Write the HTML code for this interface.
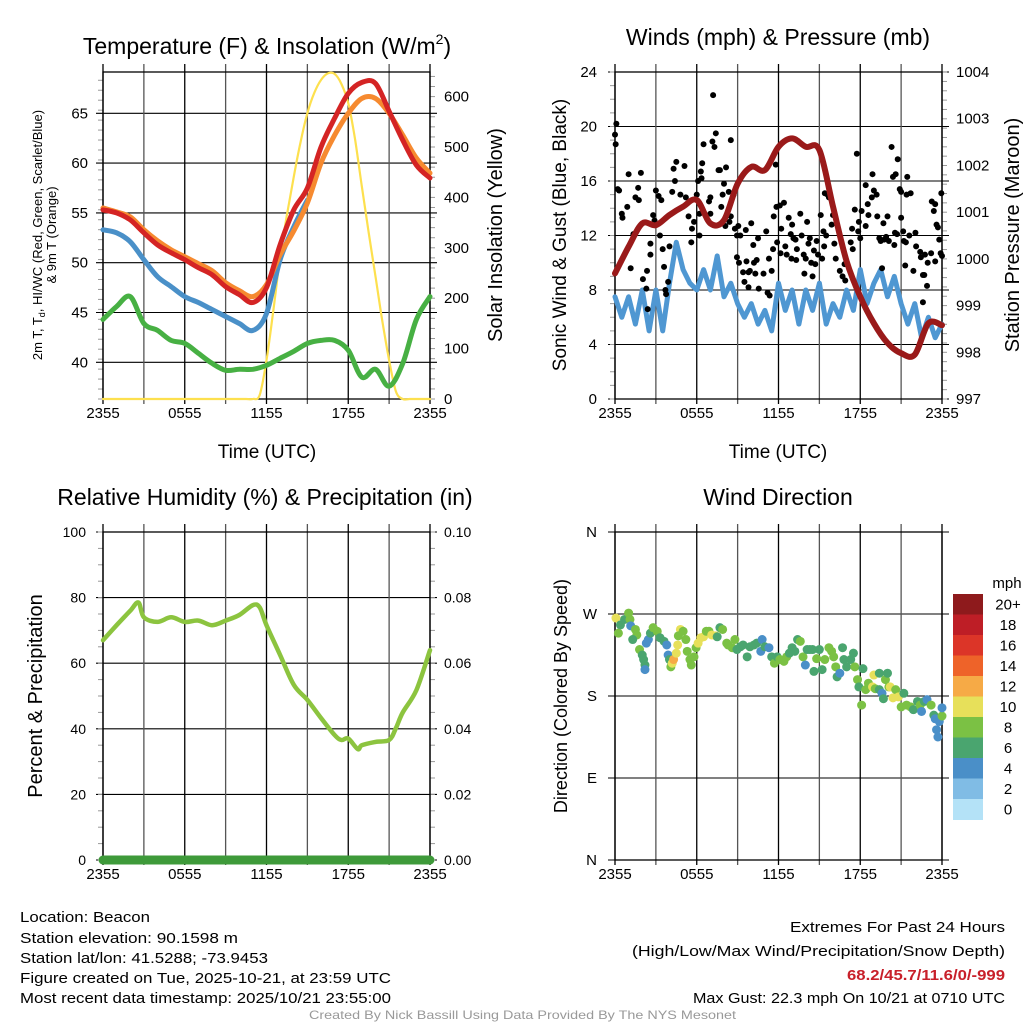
<!DOCTYPE html>
<html><head><meta charset="utf-8">
<style>
html,body{margin:0;padding:0;background:#fff;}
svg{display:block;font-family:"Liberation Sans",sans-serif;}
</style></head>
<body>
<svg id="chart" width="1024" height="1024" viewBox="0 0 1024 1024" xmlns="http://www.w3.org/2000/svg">
<rect width="1024" height="1024" fill="#fff"/>
<g id="g-temp"></g>
<g id="g-wind"></g>
<g id="g-rh"></g>
<g id="g-dir"></g>
<g font-size="23" text-anchor="middle" fill="#000">
<text x="267" y="54">Temperature (F) &amp; Insolation (W/m<tspan font-size="14" dy="-10">2</tspan><tspan dy="10">)</tspan></text>
<text x="778" y="45">Winds (mph) &amp; Pressure (mb)</text>
<text x="265" y="505">Relative Humidity (%) &amp; Precipitation (in)</text>
<text x="778" y="505">Wind Direction</text>
</g>
<g font-size="15" fill="#000">
<text x="20" y="922" textLength="130" lengthAdjust="spacingAndGlyphs">Location: Beacon</text>
<text x="20" y="943" textLength="218" lengthAdjust="spacingAndGlyphs">Station elevation: 90.1598 m</text>
<text x="20" y="963" textLength="248" lengthAdjust="spacingAndGlyphs">Station lat/lon: 41.5288; -73.9453</text>
<text x="20" y="983" textLength="371" lengthAdjust="spacingAndGlyphs">Figure created on Tue, 2025-10-21, at 23:59 UTC</text>
<text x="20" y="1003" textLength="371" lengthAdjust="spacingAndGlyphs">Most recent data timestamp: 2025/10/21 23:55:00</text>
<text x="790" y="932" textLength="215" lengthAdjust="spacingAndGlyphs">Extremes For Past 24 Hours</text>
<text x="632" y="956" textLength="373" lengthAdjust="spacingAndGlyphs">(High/Low/Max Wind/Precipitation/Snow Depth)</text>
<text x="847" y="980" fill="#c8202a" font-weight="bold" textLength="158" lengthAdjust="spacingAndGlyphs">68.2/45.7/11.6/0/-999</text>
<text x="693" y="1003" textLength="312" lengthAdjust="spacingAndGlyphs">Max Gust: 22.3 mph On 10/21 at 0710 UTC</text>
<text x="309" y="1019" font-size="12" fill="#999" textLength="427" lengthAdjust="spacingAndGlyphs">Created By Nick Bassill Using Data Provided By The NYS Mesonet</text>
</g>
</svg>
<script>
// ---------- data (hourly from 2355 UTC, h = 0..24) ----------
const xTickLabels = ["2355","0555","1155","1755","2355"];
const tempRed = [55.3,55.0,54.3,53.0,51.8,51.0,50.3,49.5,48.8,47.6,46.8,46.0,47.5,51.8,55.3,57.5,61.6,64.5,67.0,68.1,68.0,65.2,62.3,59.8,58.5];
const tempOrange = [55.5,55.1,54.6,53.3,52.2,51.3,50.6,49.9,49.2,48.0,47.2,46.6,47.8,50.8,53.2,56.0,60.0,62.8,65.0,66.5,66.5,65.0,62.8,60.5,59.0];
const tempBlue = [53.3,53.0,52.1,50.3,48.6,47.6,46.6,46.0,45.3,44.6,43.9,43.2,44.9,50.3,53.6,56.3];
const tempGreen = [44.3,45.6,46.6,43.9,43.2,42.2,41.9,40.9,39.9,39.2,39.3,39.3,39.7,40.4,41.1,41.9,42.2,42.2,41.2,38.5,39.3,37.6,39.9,44.3,46.6];
// solar (half-hourly)
const solar = [0,0,0,0,0,0,0,0,0,0,0,0,0,0,0,0,0,0,0,0,0,0,0,8,77,175,282,365,441,510,567,607,633,646,645,625,587,515,421,330,243,155,77,15,0,0,0,0,0];
const tempTicks = [40,45,50,55,60,65];
const solarTicks = [0,100,200,300,400,500,600];
// wind (half-hourly)
const windSpeed = [7.5,6,7.5,5.5,8,5,8,5,8.5,11.5,9.5,8.5,8,9.5,8,10.5,7.5,8.5,7,6,7,5.5,6.5,5,8.5,6.5,8,5.5,8,6.5,8.5,5.5,7,6,8,6.5,9.5,7,8.5,9.5,7.5,9,7,5.5,7,4.5,6,4.5,5.5];
const pressure = [999.69,1000.26,1000.76,1000.72,1000.94,1001.12,1001.26,1000.76,1000.83,1001.61,1001.97,1001.9,1002.4,1002.58,1002.4,1002.33,1001.12,999.95,999.19,998.62,998.2,997.98,997.95,998.62,998.58];
const gustHour = [0,0.05,0.1,0.2,0.3,0.5,0.55,0.9,1,1.15,1.35,1.5,1.7,1.75,1.9,2.05,2.3,2.35,2.4,2.6,2.6,2.8,2.9,3.0,3.2,3.3,3.4,3.5,3.6,3.7,3.75,3.9,4.0,4.2,4.3,4.5,4.4,4.8,5.1,5.2,5.4,5.6,5.65,5.8,6.0,6.1,6.2,6.2,6.3,6.4,6.35,6.5,6.9,7.0,7.0,7.2,7.15,7.3,7.4,7.6,7.7,7.8,7.9,8.0,8.1,8.15,8.4,8.5,8.35,8.5,8.7,8.8,8.95,8.95,9.05,9.1,9.2,9.4,9.5,9.6,9.65,9.8,9.8,9.9,10.0,10.2,10.15,10.3,10.4,10.5,10.55,10.9,11.2,11.35,11.5,11.3,11.1,11.6,11.65,11.8,11.85,11.9,12.1,12.4,12.2,12.15,12.5,12.6,12.75,12.9,12.95,13.0,13.1,13.3,13.35,13.25,13.6,13.7,13.85,14.0,14.2,13.9,14.1,14.3,14.4,14.5,14.6,14.7,14.8,14.9,15.2,15.3,15.1,15.35,15.4,15.6,15.7,15.5,15.9,16.0,16.1,16.2,16.5,16.7,16.9,16.85,17.3,17.45,17.4,17.6,17.75,17.85,17.9,18.0,18.4,18.1,18.4,18.55,18.6,18.9,18.85,19.0,19.2,19.25,19.4,19.5,19.6,19.75,19.7,20.0,19.9,20.1,20.3,20.4,20.6,20.5,20.55,20.7,21.2,20.75,20.9,21.0,21.0,21.15,21.3,21.35,21.4,21.7,21.45,21.6,21.9,22.05,22.1,22.4,22.45,22.6,22.6,22.7,22.9,22.75,22.95,23.2,23.5,23.25,23.5,23.4,23.6,23.7,23.8,23.9,24.0,23.95];
const gustVal = [19.4,18.7,20.2,15.4,15.3,13.6,13.3,14.1,16.5,9.6,12.1,14.8,15.5,14.6,16.6,8.8,8.1,9.4,6.6,11.4,10.6,13.5,13.1,15.3,14.9,12.0,14.6,11.0,9.7,8.0,7.7,8.6,11.2,15.2,16.9,17.4,16.0,15.0,17.1,14.8,13.4,11.5,12.5,13.0,15.0,16.0,12.0,13.6,16.7,17.3,16.2,18.7,14.5,14.8,13.6,22.3,18.9,18.5,19.5,16.8,16.8,14.1,15.0,15.8,12.7,17.0,13.0,13.4,15.2,19.0,15.0,12.5,12.0,10.4,12.7,10.0,12.0,9.3,8.6,12.4,10.1,9.3,8.2,9.4,12.9,10.0,11.3,9.2,10.2,11.8,8.1,9.2,7.8,7.6,9.4,10.3,12.3,11.0,13.4,17.2,14.1,11.5,14.2,14.4,12.5,10.7,11.2,10.6,13.3,12.1,10.3,12.8,11.8,10.2,11.0,11.7,13.6,12.0,10.6,10.3,11.4,9.2,13.0,11.8,10.0,9.0,10.9,9.9,11.6,10.6,10.3,12.3,13.5,11.2,15.1,15.0,14.8,12.0,12.8,13.5,11.4,10.3,9.4,9.0,8.7,9.9,11.5,11.0,12.5,13.9,18.0,12.3,13.0,11.8,12.7,13.8,15.7,14.3,13.5,16.5,14.8,15.3,15.0,13.4,11.8,11.6,9.6,11.7,12.9,13.4,11.9,11.6,18.5,16.3,16.5,11.3,12.2,12.1,11.6,17.6,15.4,15.2,13.3,12.3,9.8,11.5,15.0,15.1,16.3,12.0,9.4,12.2,11.2,10.8,10.4,9.1,7.1,9.1,8.3,10.6,10.0,10.7,10.1,14.5,14.3,13.8,12.8,12.6,11.7,10.7,10.5,15.1];
const windTicks = [0,4,8,12,16,20,24];
const pressTicks = [997,998,999,1000,1001,1002,1003,1004];
// humidity
const rhHour = [0,1,2,2.6,3,4,5,6,7,8,9,10,11,11.5,12,13,14,15,16,17,17.5,18,18.7,19,20,21,21.5,22,23,24];
const rhVal = [67,71.6,76,78.5,74,72.6,74,72.6,73,71.6,73,74.7,77.7,77,71.6,62.5,53.4,48.8,43.3,38.1,36.6,37,33.8,35,36,36.6,40.2,45,51.8,64];
const precipVal = [0,0];
const rhTicks = [0,20,40,60,80,100];
const precipTicks = ["0.00","0.02","0.04","0.06","0.08","0.10"];
// wind direction
const dirHour = [0.07,0.4,0.25,0.7,1.0,1.1,1.15,1.5,1.6,1.3,1.8,2.0,2.1,2.2,2.2,2.3,2.45,2.6,2.8,3.1,3.3,3.6,3.8,3.9,4.0,4.1,4.2,4.3,4.5,4.6,4.8,4.65,5.0,5.2,5.3,5.5,5.6,5.8,5.95,6.1,6.3,6.5,6.7,6.9,7.1,7.4,7.5,7.7,7.9,8.2,8.3,8.6,8.8,8.95,9.2,9.4,9.7,9.9,10.2,10.4,10.7,10.8,11.0,11.3,11.5,11.7,11.9,12.1,12.4,12.6,12.8,13.0,13.2,13.4,13.6,13.8,13.97,14.1,14.3,14.5,14.6,14.8,15.0,15.2,15.4,15.7,15.9,16.05,16.2,16.3,16.5,16.7,16.8,17.0,17.3,17.5,17.6,17.8,17.9,18.1,18.2,18.4,18.6,18.9,19.0,19.1,19.4,19.4,19.6,19.7,19.85,20.0,20.1,20.2,20.4,20.6,20.8,21.0,21.2,21.4,21.7,21.9,22.2,22.4,22.5,22.7,22.9,23.2,23.4,23.5,23.6,23.7,23.8,24.0,24.0];
const dirDeg = [265.6,258,249,264,271,264,257,253,247,242,231,225,220,214,209,238,242,249,255,251,244,240,236,225,220,212,216,220,227,236,253,246,251,242,229,220,214,223,233,238,244,245,251,251,247,246,245,255,253,238,236,233,242,231,234,236,223,234,236,238,229,242,234,233,223,216,223,220,218,223,227,233,229,242,240,223,214,231,231,231,207,221,231,209,220,233,229,223,212,201,205,233,220,212,220,227,212,198,190,170,210,187,194,190,203,188,205,187,183,177,198,205,190,190,178,187,179,168,183,170,168,165,174,170,163,174,176,170,159,155,143,135,152,158,167];
const dirSpd = [10,6,8,6,8,8,4,8,8,6,8,6,6,6,4,4,4,6,8,8,6,6,4,4,6,8,10,12,10,10,10,8,8,8,8,8,8,8,8,10,10,10,8,8,10,10,6,6,8,8,8,8,8,6,6,6,6,6,6,6,4,4,6,4,6,8,6,8,8,8,6,6,6,6,8,8,4,6,6,6,6,8,6,6,8,8,8,8,8,6,4,6,6,6,6,6,8,8,6,8,6,8,8,10,10,8,6,6,4,6,8,6,8,10,10,8,10,8,6,8,8,6,6,8,4,6,4,8,6,4,4,4,4,8,4];
const cbLabels = ["0","2","4","6","8","10","12","14","16","18","20+"];
const cbColors = ["#b4e2f7","#80bce5","#4a8fc8","#4aa56f","#7bc144","#e7e05a","#f6aa46","#ee6329","#dc3528","#be1e26","#8e1a1c"];
const dirLabels = ["N","E","S","W","N"];

// ---------- helpers ----------
const NS = "http://www.w3.org/2000/svg";
function mk(tag, attrs, parent){ const e=document.createElementNS(NS,tag); for(const k in attrs) e.setAttribute(k,attrs[k]); parent.appendChild(e); return e; }
function colorFor(s){ let i=Math.min(10,Math.max(0,Math.floor(s/2))); return cbColors[i]; }

function frame(g, x0, y0, x1, y1, name){
  for(let i=0;i<=8;i++){
    const x=x0+(x1-x0)*i/8;
    const l=mk('line',{x1:x,x2:x,y1:y0-8,y2:y1+5,stroke:(i%2==0?'#000':'#555'),'stroke-width':1.3},g);
    
    
  }
  for(let i=0;i<5;i++){
    const t=mk('text',{x:x0+(x1-x0)*i/4,y:y1+19,'font-size':15,'text-anchor':'middle'},g);
    t.textContent=xTickLabels[i];
    
    
  }
  const r=mk('rect',{x:x0,y:y0,width:x1-x0,height:y1-y0,fill:'none',stroke:'#000','stroke-width':1.3},g);
  
  
}
function hgrid(g,x0,x1,y,name){
  const l=mk('line',{x1:x0-7,x2:x1+7,y1:y,y2:y,stroke:'#000','stroke-width':1.1},g);
  
  
}
function minorTicks(g,x,y0,y1,step,dir,name){
  for(let y=y1;y>=y0-0.1;y-=step){
    const l=mk('line',{x1:x,x2:x+dir*5,y1:y,y2:y,stroke:'#999','stroke-width':1},g);
    
    
  }
}
function tickLabel(g,x,y,txt,anchor,name,size){
  const t=mk('text',{x:x,y:y+5,'font-size':size||15,'text-anchor':anchor},g);
  t.textContent=txt;
  
  
}
function rotLabel(g,x,y,txt,size,name){
  const t=mk('text',{x:x,y:y,'font-size':size,'text-anchor':'middle',transform:`rotate(-90 ${x} ${y})`},g);
  t.textContent=txt;
  
  
  return t;
}
// smooth (Catmull-Rom) or straight path
function polyline(g,hours,vals,sx,sy,color,w,name,smooth){
  const P=[];
  for(let i=0;i<vals.length;i++){ if(vals[i]==null) continue; P.push([sx(hours[i]),sy(vals[i])]); }
  let d='M'+P[0][0].toFixed(1)+','+P[0][1].toFixed(1);
  for(let i=0;i<P.length-1;i++){
    if(smooth){
      const p0=P[Math.max(0,i-1)],p1=P[i],p2=P[i+1],p3=P[Math.min(P.length-1,i+2)];
      const c1=[p1[0]+(p2[0]-p0[0])/6,p1[1]+(p2[1]-p0[1])/6];
      const c2=[p2[0]-(p3[0]-p1[0])/6,p2[1]-(p3[1]-p1[1])/6];
      d+=' C'+c1[0].toFixed(1)+','+c1[1].toFixed(1)+' '+c2[0].toFixed(1)+','+c2[1].toFixed(1)+' '+p2[0].toFixed(1)+','+p2[1].toFixed(1);
    } else d+=' L'+P[i+1][0].toFixed(1)+','+P[i+1][1].toFixed(1);
  }
  const p=mk('path',{d:d,fill:'none',stroke:color,'stroke-width':w,'stroke-linejoin':'round','stroke-linecap':'round'},g);
  
  
}
const hourly = n => Array.from({length:n},(_,i)=>i);
const halfHourly = n => Array.from({length:n},(_,i)=>i/2);

// ---------- panel 1: temperature ----------
(function(){
  const g=document.getElementById('g-temp');
  const x0=103,x1=430,y0=72,y1=399;
  const sx=h=>x0+(x1-x0)*h/24;
  const sy=v=>362.3-(v-40)*9.96;
  const sr=v=>Math.min(y1,y1-v*0.504);
  tempTicks.forEach(v=>{ hgrid(g,x0,x1,sy(v),'temp'); tickLabel(g,88,sy(v),String(v),'end','temp-y-tick-label'); });
  solarTicks.forEach(v=>{ tickLabel(g,444,sr(v),String(v),'start','solar-y-tick-label'); });
  minorTicks(g,x0,y0,y1,9.96,-1,'temp-left');
  minorTicks(g,x1,y0,y1,10.08,1,'temp-right');
  frame(g,x0,y0,x1,y1,'temp');
  polyline(g,halfHourly(49),solar,sx,sr,'#fde04e',2.2,'solar-insolation-line',true);
  polyline(g,hourly(25),tempGreen,sx,sy,'#47b043',5,'dewpoint-line',true);
  polyline(g,hourly(16),tempBlue,sx,sy,'#4a90c8',5,'heat-index-line',true);
  polyline(g,hourly(25),tempOrange,sx,sy,'#f68a30',5,'temp-9m-line',true);
  polyline(g,hourly(25),tempRed,sx,sy,'#d42424',5,'temp-2m-line',true);
  const t=rotLabel(g,42,235,'',13,'temp-y-axis-title');
  t.innerHTML='2m T, T<tspan font-size="9" dy="3">d</tspan><tspan dy="-3">, HI/WC (Red, Green, Scarlet/Blue)</tspan>';
  rotLabel(g,56,235,'& 9m T (Orange)',13,'temp-y-axis-title-2');
  rotLabel(g,502,235,'Solar Insolation (Yellow)',20,'solar-y-axis-title');
  const xt=mk('text',{x:267,y:458,'font-size':19,'text-anchor':'middle'},g); xt.textContent='Time (UTC)';
  
  
})();

// ---------- panel 2: wind ----------
(function(){
  const g=document.getElementById('g-wind');
  const x0=615,x1=942,y0=72,y1=399;
  const sx=h=>x0+(x1-x0)*h/24;
  const sy=v=>y1-v*13.625;
  const sp=v=>y1-(v-997)*46.71;
  windTicks.forEach(v=>{ hgrid(g,x0,x1,sy(v),'wind'); tickLabel(g,597,sy(v),String(v),'end','wind-y-tick-label'); });
  pressTicks.forEach(v=>{ tickLabel(g,956,sp(v),String(v),'start','pressure-y-tick-label'); });
  minorTicks(g,x0,y0,y1,13.625,-1,'wind-left');
  minorTicks(g,x1,y0,y1,9.34,1,'wind-right');
  frame(g,x0,y0,x1,y1,'wind');
  polyline(g,halfHourly(49),windSpeed,sx,sy,'#4f97d2',5,'sonic-wind-line',false);
  for(let i=0;i<gustVal.length;i++){
    const c=mk('circle',{cx:sx(gustHour[i]),cy:sy(gustVal[i]),r:3,fill:'#000'},g);
    
    
  }
  polyline(g,hourly(25),pressure,sx,sp,'#9a1a1a',6,'pressure-line',true);
  rotLabel(g,566,235,'Sonic Wind & Gust (Blue, Black)',19,'wind-y-axis-title');
  rotLabel(g,1019,235,'Station Pressure (Maroon)',20,'pressure-y-axis-title');
  const xt=mk('text',{x:778,y:458,'font-size':19,'text-anchor':'middle'},g); xt.textContent='Time (UTC)';
  
  
})();

// ---------- panel 3: humidity ----------
(function(){
  const g=document.getElementById('g-rh');
  const x0=103,x1=430,y0=532,y1=860;
  const sx=h=>x0+(x1-x0)*h/24;
  const sy=v=>y1-v*3.28;
  const sp=v=>y1-v*3280;
  rhTicks.forEach((v,i)=>{ hgrid(g,x0,x1,sy(v),'rh'); tickLabel(g,86,sy(v),String(v),'end','rh-y-tick-label',14); tickLabel(g,444,sy(v),precipTicks[i],'start','precip-y-tick-label',14); });
  minorTicks(g,x0,y0,y1,16.4,-1,'rh-left');
  minorTicks(g,x1,y0,y1,16.4,1,'rh-right');
  frame(g,x0,y0,x1,y1,'rh');
  polyline(g,rhHour,rhVal,sx,sy,'#8cc43f',4.5,'relative-humidity-line',true);
  polyline(g,[0,24],precipVal,sx,sp,'#3e9a3a',9,'precipitation-line',false);
  rotLabel(g,42,696,'Percent & Precipitation',20,'rh-y-axis-title');
})();

// ---------- panel 4: wind direction ----------
(function(){
  const g=document.getElementById('g-dir');
  const x0=615,x1=942,y0=532,y1=860;
  const sx=h=>x0+(x1-x0)*h/24;
  const sy=d=>y1-d*(y1-y0)/360;
  dirLabels.forEach((lab,i)=>{ hgrid(g,x0,x1,sy(i*90),'dir'); tickLabel(g,597,sy(i*90),lab,'end','dir-y-tick-label'); });
  frame(g,x0,y0,x1,y1,'dir');
  for(let i=0;i<dirDeg.length;i++){
    const c=mk('circle',{cx:sx(dirHour[i]),cy:sy(dirDeg[i]),r:4.5,fill:colorFor(dirSpd[i])},g);
    
    
  }
  rotLabel(g,567,696,'Direction (Colored By Speed)',18,'dir-y-axis-title');
  const cbTop=594, cbH=20.5;
  const u=mk('text',{x:1007,y:588,'font-size':15,'text-anchor':'middle'},g); u.textContent='mph';
  
  
  for(let i=0;i<cbColors.length;i++){
    const k=cbColors.length-1-i;
    const r=mk('rect',{x:953,y:cbTop+i*cbH,width:30,height:cbH+0.5,fill:cbColors[k]},g);
    
    
    tickLabel(g,1008,cbTop+i*cbH+cbH/2,cbLabels[k],'middle','colorbar-label');
  }
})();
</script>
</body></html>
